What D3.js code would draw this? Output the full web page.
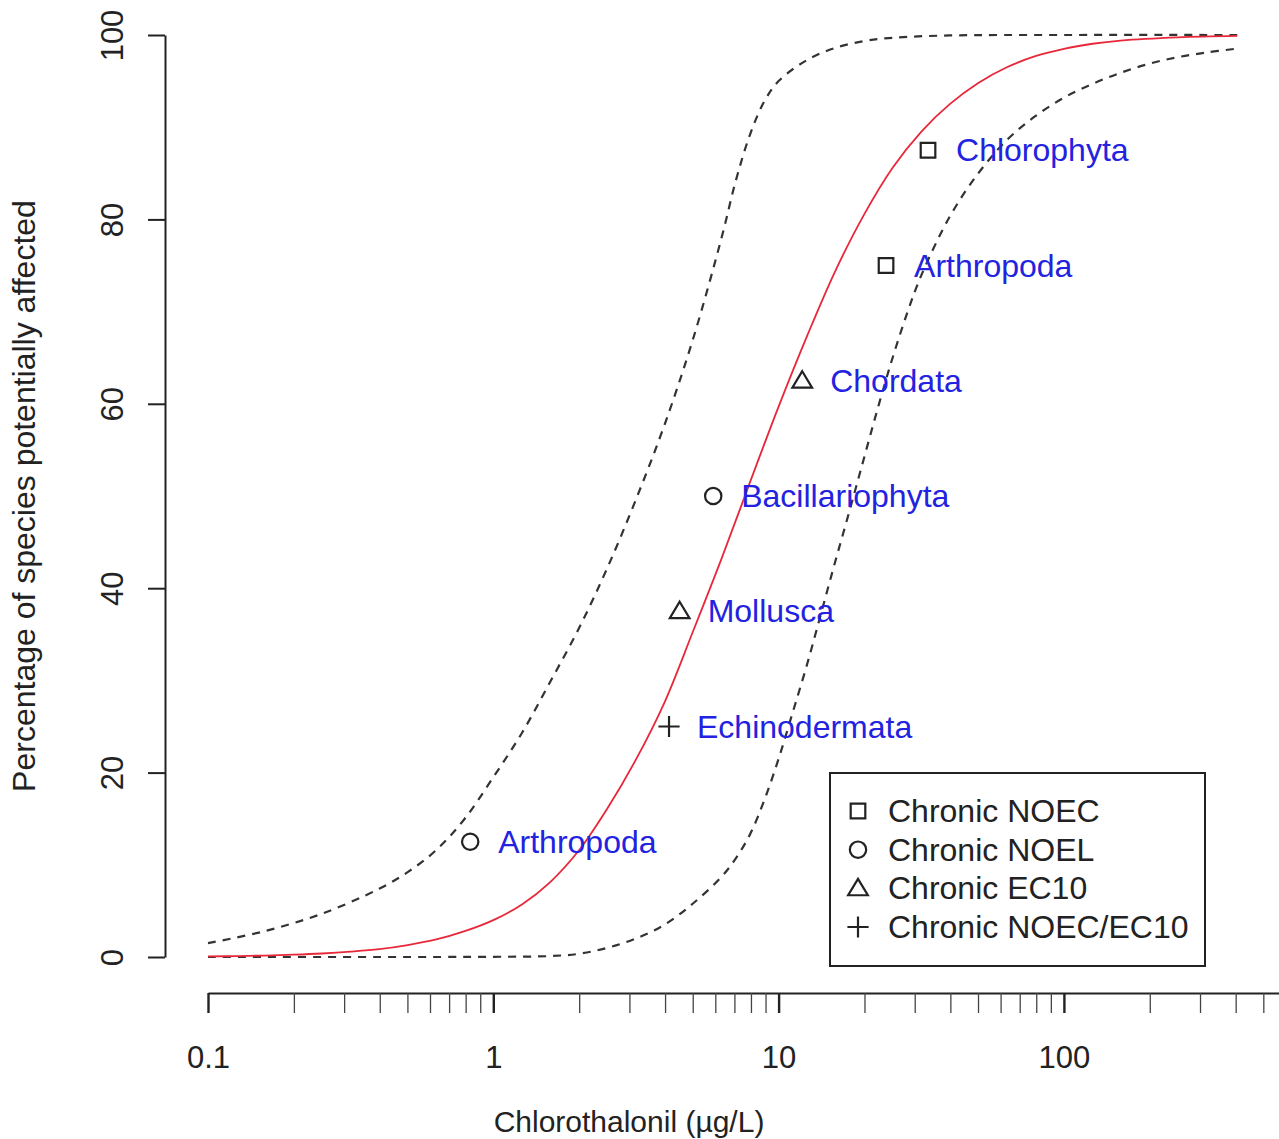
<!DOCTYPE html>
<html>
<head>
<meta charset="utf-8">
<script src="https://cdn.jsdelivr.net/npm/d3@7"></script>
<style>
  html, body { margin: 0; padding: 0; background: #fff; }
  svg { display: block; }
  text { font-family: "Liberation Sans", Arial, sans-serif; }
</style>
</head>
<body>
<svg id="chart" width="1279" height="1139"></svg>
<script>
// ---- data ----
// fitted SSD curve: concentration (µg/L), percentage of species affected
const fitConc = [0.1, 0.126, 0.158, 0.2, 0.251, 0.316, 0.398, 0.501, 0.631, 0.794, 1, 1.26, 1.58, 2.0, 2.51, 3.16, 3.98, 5.01, 6.31, 7.94, 10, 12.6, 15.8, 20, 25.1, 31.6, 39.8, 50.1, 63.1, 79.4, 100, 126, 158, 251, 405];
const fitPct  = [0.06, 0.1, 0.16, 0.25, 0.38, 0.58, 0.85, 1.3, 1.9, 2.8, 4.0, 5.7, 8.1, 11.6, 16.1, 21.4, 27.6, 35.3, 43.2, 51.5, 59.7, 67.4, 74.4, 80.6, 85.6, 89.5, 92.5, 94.8, 96.5, 97.7, 98.5, 99.05, 99.4, 99.75, 99.9];
// upper confidence band (left dashed curve)
const upConc = [0.1, 0.158, 0.251, 0.398, 0.501, 0.631, 0.794, 1, 1.26, 1.58, 2.0, 2.51, 3.16, 3.98, 5.01, 6.31, 7.08, 7.94, 8.91, 10, 12.6, 15.8, 20, 25.1, 39.8, 100, 405];
const upPct  = [1.5, 2.8, 4.7, 7.4, 9.2, 11.6, 15.0, 19.5, 24.3, 29.8, 35.7, 42.2, 49.6, 57.7, 67.0, 78.0, 84.2, 89.2, 92.8, 95.0, 97.3, 98.6, 99.35, 99.7, 99.95, 100, 100];
// lower confidence band (right dashed curve)
const loConc = [0.1, 0.398, 1, 1.58, 2.0, 2.51, 3.16, 3.98, 5.01, 6.31, 7.08, 7.94, 8.91, 10, 11.2, 12.6, 14.1, 15.8, 17.8, 20, 22.4, 25.1, 28.2, 31.6, 39.8, 50.1, 63.1, 79.4, 100, 126, 158, 200, 251, 316, 398];
const loPct  = [0, 0, 0.02, 0.1, 0.35, 1.0, 2.0, 3.5, 5.8, 8.7, 10.7, 13.3, 17.0, 21.5, 26.5, 31.8, 37.3, 42.9, 48.6, 54.3, 59.8, 65.0, 69.8, 73.9, 80.3, 85.0, 88.6, 91.2, 93.2, 94.7, 95.9, 96.9, 97.6, 98.1, 98.5];
// species data points
const speciesNames = ["Arthropoda", "Echinodermata", "Mollusca", "Bacillariophyta", "Chordata", "Arthropoda", "Chlorophyta"];
const speciesConc  = [0.83, 4.13, 4.5, 5.9, 12.1, 23.8, 33.4];
const speciesPct   = [12.5, 25, 37.5, 50, 62.5, 75, 87.5];
const speciesType  = ["Chronic NOEL", "Chronic NOEC/EC10", "Chronic EC10", "Chronic NOEL", "Chronic EC10", "Chronic NOEC", "Chronic NOEC"];
// legend / axes
const legendLabels = ["Chronic NOEC", "Chronic NOEL", "Chronic EC10", "Chronic NOEC/EC10"];
const xMajorTicks = [0.1, 1, 10, 100];
const xMinorTicks = [0.2,0.3,0.4,0.5,0.6,0.7,0.8,0.9, 2,3,4,5,6,7,8,9, 20,30,40,50,60,70,80,90, 200,300,400,500,600,700,800,900];
const yTicks = [0, 20, 40, 60, 80, 100];
const xTitle = "Chlorothalonil (\u00b5g/L)";
const yTitle = "Percentage of species potentially affected";

// ---- drawing ----
const svg = d3.select("#chart");
const x = d3.scaleLog().domain([0.1, 1000]).range([208, 208 + 4 * 285.3]);
const y = d3.scaleLinear().domain([0, 100]).range([957, 35]);

const shapes = {
  "Chronic NOEC": { draw(ctx, s) { const h = s; ctx.moveTo(-h, -h); ctx.lineTo(h, -h); ctx.lineTo(h, h); ctx.lineTo(-h, h); ctx.closePath(); } },
  "Chronic NOEL": { draw(ctx, s) { ctx.moveTo(s * 1.12, 0); ctx.arc(0, 0, s * 1.12, 0, 2 * Math.PI); } },
  "Chronic EC10": { draw(ctx, s) { const w = s * 1.35; ctx.moveTo(0, -s * 1.3); ctx.lineTo(w, s * 0.95); ctx.lineTo(-w, s * 0.95); ctx.closePath(); } },
  "Chronic NOEC/EC10": { draw(ctx, s) { const h = s * 1.45; ctx.moveTo(-h, 0); ctx.lineTo(h, 0); ctx.moveTo(0, -h); ctx.lineTo(0, h); } }
};
const sym = t => d3.symbol().type(shapes[t]).size(7.3)();

// x axis
const xAxis = d3.axisBottom(x).tickValues(xMajorTicks).tickSize(20).tickSizeOuter(0)
  .tickFormat(d => d3.format("~g")(d));
const gx = svg.append("g").attr("transform", "translate(0,993)").call(xAxis);
gx.select(".domain").attr("stroke", "#222").attr("stroke-width", 2);
gx.selectAll(".tick line").attr("stroke", "#222").attr("stroke-width", 2.4);
gx.selectAll(".tick text").attr("y", 75).attr("dy", 0).attr("fill", "#222")
  .attr("font-size", 31).attr("font-family", "Liberation Sans, Arial, sans-serif");
const xAxisMinor = d3.axisBottom(x).tickValues(xMinorTicks).tickSize(20).tickSizeOuter(0).tickFormat("");
const gxm = svg.append("g").attr("transform", "translate(0,993)").call(xAxisMinor);
gxm.select(".domain").remove();
gxm.selectAll(".tick line").attr("stroke", "#444").attr("stroke-width", 1.3);

// y axis
const yAxis = d3.axisLeft(y).tickValues(yTicks).tickSize(17).tickSizeOuter(0);
const gy = svg.append("g").attr("transform", "translate(165,0)").call(yAxis);
gy.select(".domain").attr("stroke", "#222").attr("stroke-width", 2);
gy.selectAll(".tick line").attr("stroke", "#222").attr("stroke-width", 2);
gy.selectAll(".tick text").attr("x", 0).attr("dy", 0).attr("text-anchor", "middle")
  .attr("transform", "translate(-42,0) rotate(-90)").attr("fill", "#222")
  .attr("font-size", 31).attr("font-family", "Liberation Sans, Arial, sans-serif");

// titles
svg.append("text").attr("x", 629).attr("y", 1132).attr("text-anchor", "middle")
  .attr("font-size", 30).attr("fill", "#222").text(xTitle);
svg.append("text").attr("transform", "translate(35,496) rotate(-90)").attr("text-anchor", "middle")
  .attr("font-size", 32).attr("fill", "#222").text(yTitle);

// curves
const line = d3.line().x(d => x(d[0])).y(d => y(d[1])).curve(d3.curveCatmullRom.alpha(0.5));
svg.append("path").datum(d3.zip(upConc, upPct)).attr("d", line)
  .attr("fill", "none").attr("stroke", "#333").attr("stroke-width", 2.2).attr("stroke-dasharray", "8,7");
svg.append("path").datum(d3.zip(loConc, loPct)).attr("d", line)
  .attr("fill", "none").attr("stroke", "#333").attr("stroke-width", 2.2).attr("stroke-dasharray", "8,7");
svg.append("path").datum(d3.zip(fitConc, fitPct)).attr("d", line)
  .attr("fill", "none").attr("stroke", "#e8283a").attr("stroke-width", 1.8);

// points and labels
const pts = speciesNames.map((n, i) => ({ n, c: speciesConc[i], p: speciesPct[i], t: speciesType[i] }));
svg.append("g").selectAll("path").data(pts).join("path")
  .attr("transform", d => `translate(${x(d.c)},${y(d.p)})`)
  .attr("d", d => sym(d.t)).attr("fill", "none").attr("stroke", "#222").attr("stroke-width", 2.2);
svg.append("g").selectAll("text").data(pts).join("text")
  .attr("x", d => x(d.c) + 28).attr("y", d => y(d.p) + 11)
  .attr("font-size", 32).attr("fill", "#2222e0").text(d => d.n);

// legend
const lg = svg.append("g");
lg.append("rect").attr("x", 830).attr("y", 773).attr("width", 375).attr("height", 193)
  .attr("fill", "#fff").attr("stroke", "#222").attr("stroke-width", 2);
const ly = d3.scalePoint().domain(legendLabels).range([811, 927]);
lg.selectAll("path").data(legendLabels).join("path")
  .attr("transform", d => `translate(858,${ly(d)})`).attr("d", d => sym(d))
  .attr("fill", "none").attr("stroke", "#222").attr("stroke-width", 2.2);
lg.selectAll("text").data(legendLabels).join("text")
  .attr("x", 888).attr("y", d => ly(d) + 11).attr("font-size", 32).attr("fill", "#222").text(d => d);
</script>
</body>
</html>
